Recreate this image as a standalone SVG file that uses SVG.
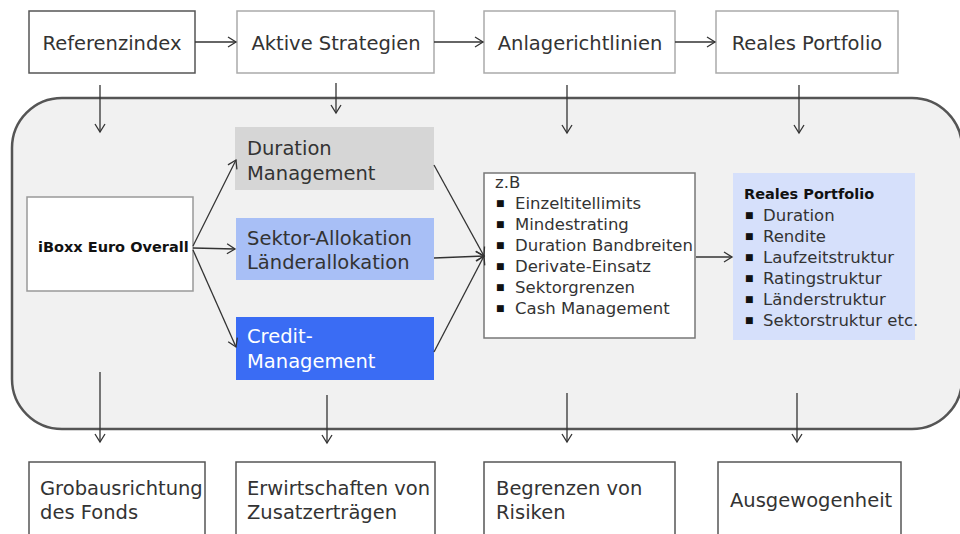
<svg xmlns="http://www.w3.org/2000/svg" width="960" height="534" viewBox="0 0 960 534">
<defs>
<marker id="arr" markerWidth="12" markerHeight="12" refX="10" refY="6" orient="auto" markerUnits="userSpaceOnUse">
<path d="M2,1 L10,6 L2,11" fill="none" stroke="#333" stroke-width="1.3"/>
</marker>
<style>
text{font-family:"DejaVu Sans","Liberation Sans",sans-serif;fill:#333;}
.big{font-size:19.5px;}
.mid{font-size:19.5px;}
.sm{font-size:16.5px;}
.b{font-size:9px;fill:#111;}
.box{fill:#fff;stroke:#888;stroke-width:1.5;}
.c line{stroke:#333;stroke-width:1.3;marker-end:url(#arr);}
</style>
</defs>
<rect width="960" height="534" fill="#fff"/>
<rect id="frame" x="12" y="98" width="950" height="331" rx="50" ry="50" fill="#f1f1f1" stroke="#555" stroke-width="2.5"/>

<g id="referenzindex"><rect class="box" x="29" y="11" width="166" height="62" style="stroke:#555"/><text class="big" x="112" y="50" text-anchor="middle">Referenzindex</text></g>
<g id="aktive"><rect class="box" x="237" y="11" width="197" height="62" style="stroke:#aaa"/><text class="big" x="336" y="50" text-anchor="middle">Aktive Strategien</text></g>
<g id="anlage"><rect class="box" x="484" y="11" width="191" height="62" style="stroke:#aaa"/><text class="big" x="580" y="50" text-anchor="middle">Anlagerichtlinien</text></g>
<g id="reales-top"><rect class="box" x="716" y="11" width="182" height="62" style="stroke:#aaa"/><text class="big" x="807" y="50" text-anchor="middle">Reales Portfolio</text></g>

<g id="iboxx"><rect class="box" x="27" y="197" width="166" height="94" style="stroke:#999"/><text x="38" y="252" font-size="14.5" font-weight="bold" style="fill:#111">iBoxx Euro Overall</text></g>
<g id="duration"><rect x="235" y="127" width="199" height="63" fill="#d6d6d6"/><text class="mid" x="247" y="155">Duration</text><text class="mid" x="247" y="180">Management</text></g>
<g id="sektor"><rect x="236" y="218" width="198" height="62" fill="#a8bff6"/><text class="mid" x="247" y="245">Sektor-Allokation</text><text class="mid" x="247" y="269">Länderallokation</text></g>
<g id="credit"><rect x="236" y="317" width="198" height="63" fill="#3a6cf4"/><text class="mid" x="247" y="343" style="fill:#fff">Credit-</text><text class="mid" x="247" y="368" style="fill:#fff">Management</text></g>

<g id="zb"><rect class="box" x="484" y="173" width="211" height="165" style="stroke:#777"/>
<text class="sm" x="495" y="188">z.B</text>
<text class="b" x="496" y="206">■</text><text class="sm" x="515" y="209">Einzeltitellimits</text>
<text class="b" x="496" y="227">■</text><text class="sm" x="515" y="230">Mindestrating</text>
<text class="b" x="496" y="248">■</text><text class="sm" x="515" y="251">Duration Bandbreiten</text>
<text class="b" x="496" y="269">■</text><text class="sm" x="515" y="272">Derivate-Einsatz</text>
<text class="b" x="496" y="290">■</text><text class="sm" x="515" y="293">Sektorgrenzen</text>
<text class="b" x="496" y="311">■</text><text class="sm" x="515" y="314">Cash Management</text></g>

<g id="reales"><rect x="733" y="173" width="182" height="167" fill="#d6e0fb"/>
<text x="744" y="199" font-size="14.5" font-weight="bold" style="fill:#111">Reales Portfolio</text>
<text class="b" x="745" y="218">■</text><text class="sm" x="763" y="221">Duration</text>
<text class="b" x="745" y="239">■</text><text class="sm" x="763" y="242">Rendite</text>
<text class="b" x="745" y="260">■</text><text class="sm" x="763" y="263">Laufzeitstruktur</text>
<text class="b" x="745" y="281">■</text><text class="sm" x="763" y="284">Ratingstruktur</text>
<text class="b" x="745" y="302">■</text><text class="sm" x="763" y="305">Länderstruktur</text>
<text class="b" x="745" y="323">■</text><text class="sm" x="763" y="326">Sektorstruktur etc.</text></g>

<g id="grob"><rect class="box" x="29" y="462" width="176" height="80" style="stroke:#555"/><text class="big" x="40" y="495">Grobausrichtung</text><text class="big" x="40" y="519">des Fonds</text></g>
<g id="erwirt"><rect class="box" x="236" y="462" width="199" height="80" style="stroke:#555"/><text class="big" x="247" y="495">Erwirtschaften von</text><text class="big" x="247" y="519">Zusatzerträgen</text></g>
<g id="begrenzen"><rect class="box" x="484" y="462" width="191" height="80" style="stroke:#555"/><text class="big" x="496" y="495">Begrenzen von</text><text class="big" x="496" y="519">Risiken</text></g>
<g id="ausgewogen"><rect class="box" x="718" y="462" width="183" height="80" style="stroke:#555"/><text class="big" x="730" y="507">Ausgewogenheit</text></g>

<g id="connectors" class="c">
<line x1="195" y1="42" x2="236" y2="42"/>
<line x1="434" y1="42" x2="483" y2="42"/>
<line x1="675" y1="42" x2="715" y2="42"/>
<line x1="100" y1="85" x2="100" y2="132"/>
<line x1="336" y1="83" x2="336" y2="113"/>
<line x1="567" y1="85" x2="567" y2="133"/>
<line x1="799" y1="85" x2="799" y2="133"/>
<line x1="193" y1="246" x2="236" y2="160"/>
<line x1="193" y1="248" x2="235" y2="249"/>
<line x1="193" y1="250" x2="236" y2="347"/>
<line x1="434" y1="165" x2="484" y2="256"/>
<line x1="434" y1="258" x2="484" y2="256"/>
<line x1="434" y1="352" x2="484" y2="256"/>
<line x1="696" y1="257" x2="732" y2="257"/>
<line x1="100" y1="372" x2="100" y2="442"/>
<line x1="327" y1="395" x2="327" y2="443"/>
<line x1="567" y1="393" x2="567" y2="442"/>
<line x1="797" y1="393" x2="797" y2="442"/>
</g>
</svg>
